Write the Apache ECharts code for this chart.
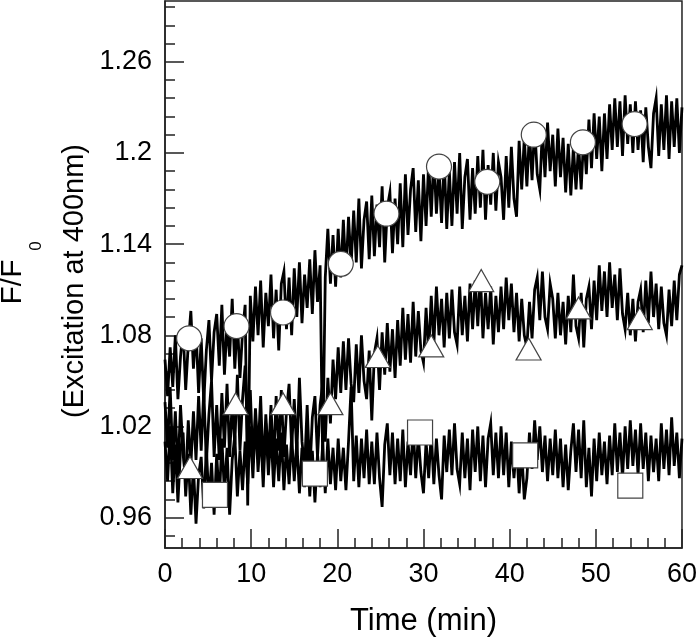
<!DOCTYPE html>
<html>
<head>
<meta charset="utf-8">
<script src="https://cdn.jsdelivr.net/npm/echarts@6/dist/echarts.min.js"></script>
<style>html,body{margin:0;padding:0;background:#fff;}#c{width:700px;height:643px;}</style>
</head>
<body>
<div id="c"></div>
<script>
// sampling step of the traces (minutes)
var timeStep = 0.3;

var circleTrace = [
1.064,1.040,1.072,1.046,1.080,1.038,1.066,1.084,1.044,1.074,
1.096,1.058,1.084,1.042,1.078,1.036,1.070,1.090,1.050,1.082,
1.094,1.060,1.100,1.054,1.088,1.066,1.104,1.058,1.090,1.052,
1.082,1.100,0.968,1.106,1.076,1.112,1.080,1.116,1.072,1.108,
1.086,1.120,1.078,1.110,1.070,1.114,1.122,1.084,1.118,1.080,
1.124,1.092,1.128,1.088,1.120,1.098,1.130,1.094,1.136,1.102,
1.126,0.998,1.118,1.150,1.114,1.146,1.112,1.150,1.118,1.156,
1.120,1.158,1.126,1.162,1.128,1.170,1.124,1.156,1.168,1.130,
1.172,1.132,1.166,1.138,1.178,1.128,1.164,1.174,1.134,1.170,
1.140,1.180,1.138,1.186,1.146,1.176,1.190,1.148,1.182,1.142,
1.186,1.152,1.194,1.158,1.198,1.160,1.190,1.154,1.196,1.150,
1.188,1.152,1.194,1.160,1.200,1.150,1.184,1.196,1.156,1.190,
1.160,1.198,1.164,1.202,1.156,1.192,1.166,1.200,1.162,1.194,
1.184,1.156,1.198,1.164,1.204,1.170,1.158,1.208,1.176,1.210,
1.178,1.214,1.182,1.218,1.186,1.176,1.216,1.184,1.220,1.188,
1.212,1.178,1.216,1.184,1.210,1.174,1.206,1.172,1.204,1.176,
1.206,1.176,1.212,1.186,1.222,1.190,1.226,1.196,1.224,1.188,
1.226,1.196,1.232,1.202,1.236,1.204,1.234,1.198,1.238,1.206,
1.232,1.200,1.234,1.202,1.228,1.194,1.230,1.204,1.190,1.226,
1.236,1.198,1.232,1.202,1.238,1.196,1.234,1.204,1.236,1.200,
1.230];

var triangleTrace = [
1.036,1.006,1.046,0.998,1.030,0.988,1.034,1.002,0.984,1.024,
0.994,1.030,0.998,1.040,1.004,1.044,0.996,1.028,1.050,1.000,
1.034,0.998,1.042,1.006,1.048,1.000,1.036,1.008,1.054,1.004,
1.038,1.060,1.010,1.044,0.996,1.032,1.002,1.040,0.990,1.028,
0.998,1.034,0.994,1.040,1.004,1.044,1.000,1.030,1.048,1.006,
1.038,1.002,1.052,1.010,0.992,1.034,0.988,1.026,1.040,1.000,
1.034,1.048,1.010,1.052,1.022,1.064,1.038,1.072,1.042,1.076,
1.044,1.078,1.048,1.036,1.074,1.042,1.080,1.050,1.038,1.070,
1.024,1.068,1.078,1.044,1.082,1.054,1.088,1.056,1.084,1.052,
1.090,1.060,1.098,1.064,1.094,1.062,1.102,1.066,1.096,1.070,
1.062,1.098,1.068,1.106,1.074,1.112,1.080,1.104,1.072,1.108,
1.078,1.110,1.082,1.074,1.112,1.080,1.106,1.076,1.114,1.084,
1.116,1.086,1.120,1.078,1.108,1.084,1.112,1.074,1.106,1.082,
1.112,1.084,1.118,1.090,1.114,1.082,1.108,1.076,1.104,1.080,
1.072,1.102,1.078,1.110,1.118,1.090,1.122,1.092,1.084,1.114,
1.104,1.078,1.108,1.080,1.102,1.074,1.106,1.082,1.120,1.086,
1.078,1.108,1.072,1.104,1.112,1.084,1.116,1.090,1.126,1.096,
1.122,1.092,1.128,1.098,1.120,1.090,1.124,1.094,1.084,1.108,
1.080,1.104,1.076,1.102,1.110,1.082,1.116,1.088,1.122,1.092,
1.114,1.084,1.112,1.088,1.080,1.110,1.086,1.116,1.090,1.120,
1.126];

var squareTrace = [
1.010,0.984,1.020,0.976,1.008,0.970,1.004,1.016,0.974,1.002,
0.962,0.994,0.956,0.988,1.000,0.966,1.006,0.970,0.996,0.962,
1.002,0.970,1.012,0.976,1.006,0.962,0.998,1.014,0.974,1.004,
0.978,1.010,0.982,1.020,0.986,1.026,0.990,1.018,0.980,1.022,
0.988,1.018,0.980,1.012,0.984,1.016,0.978,1.008,0.982,1.014,
0.984,1.010,0.976,1.006,0.980,1.012,0.974,1.004,0.970,1.002,
0.980,1.008,0.976,1.012,0.982,1.006,0.978,1.012,0.984,1.006,
0.978,1.010,1.046,0.984,1.014,0.980,1.012,0.986,1.018,0.982,
1.010,0.982,1.016,0.986,0.967,1.008,1.022,0.988,1.016,0.982,
1.012,0.984,1.018,0.980,1.010,0.988,1.020,0.986,1.014,0.990,
0.976,1.010,0.986,1.016,0.982,1.012,0.988,0.972,1.014,0.990,
1.018,0.988,1.022,0.992,0.982,1.016,0.986,1.012,0.978,1.018,
0.990,1.020,0.984,1.014,0.980,1.012,1.022,0.988,1.016,0.986,
1.020,0.988,1.016,0.980,1.010,0.986,1.008,0.976,1.004,0.972,
0.986,1.016,0.992,1.024,0.998,1.020,0.990,1.014,0.984,1.012,
0.988,1.018,0.986,1.012,0.980,1.008,0.978,1.004,1.022,0.990,
1.018,0.986,1.024,0.980,1.006,0.974,1.012,0.984,1.016,0.988,
1.010,0.982,1.014,0.988,1.022,0.990,1.016,0.986,1.020,0.992,
1.024,0.994,1.018,0.988,1.022,0.992,1.016,0.984,1.014,0.990,
1.012,0.984,1.022,0.992,1.018,0.988,1.026,0.994,1.016,0.986,
1.012];

// marker points [time, value]
var circleMarks = [[2.8,1.078],[8.3,1.086],[13.7,1.095],[20.4,1.127],[25.7,1.160],[31.8,1.191],[37.4,1.181],[42.8,1.212],[48.5,1.207],[54.5,1.219]];
var triangleMarks = [[2.9,0.993],[8.2,1.035],[13.7,1.035],[19.2,1.035],[24.7,1.066],[30.9,1.073],[36.7,1.116],[42.2,1.071],[48.0,1.098],[55.1,1.091]];
var squareMarks = [[5.8,0.975],[17.4,0.989],[29.6,1.016],[41.8,1.001],[54.0,0.981]];

// axis ticks
var yMajorTicks = [0.96, 1.02, 1.08, 1.14, 1.2, 1.26];
var yMinorTicks = [0.948,0.972,0.984,0.996,1.008,1.032,1.044,1.056,1.068,1.092,1.104,1.116,1.128,1.152,1.164,1.176,1.188,1.212,1.224,1.236,1.248,1.272,1.284,1.296];

function toPairs(arr) {
  return arr.map(function (v, i) { return [Math.round(i * timeStep * 10) / 10, v]; });
}

var font = 'Liberation Sans, Arial, sans-serif';
var chart = echarts.init(document.getElementById('c'), null, {renderer: 'canvas'});

function lineSeries(arr) {
  return {type: 'line', data: toPairs(arr), showSymbol: false, symbol: 'none',
    lineStyle: {color: '#000', width: 2.8, join: 'miter'}, z: 2, silent: true};
}
function markSeries(arr, sym, size) {
  return {type: 'scatter', data: arr, symbol: sym, symbolSize: size,
    itemStyle: {color: '#fff', borderColor: '#444', borderWidth: 1.2, opacity: 1}, z: 5, silent: true};
}

chart.setOption({
  animation: false,
  backgroundColor: '#fff',
  grid: {left: 165, right: 15, top: 1, bottom: 95, show: true, borderColor: '#222', borderWidth: 1.5, backgroundColor: 'transparent'},
  xAxis: [{
    type: 'value', min: 0, max: 60, interval: 10,
    axisLine: {lineStyle: {color: '#222', width: 1.5}},
    axisTick: {inside: true, length: 19, lineStyle: {color: '#222', width: 1.5}},
    minorTick: {show: true, splitNumber: 5, length: 10, lineStyle: {color: '#222', width: 1.5}},
    splitLine: {show: false},
    axisLabel: {fontSize: 27, color: '#000', fontFamily: font, margin: 13},
    name: 'Time (min)', nameLocation: 'middle', nameGap: 58,
    nameTextStyle: {fontSize: 31, color: '#000', fontFamily: font}
  }],
  yAxis: [{
    type: 'value', min: 0.94, max: 1.30,
    axisLine: {lineStyle: {color: '#222', width: 1.5}},
    axisTick: {inside: true, length: 19, customValues: yMajorTicks, lineStyle: {color: '#222', width: 1.5}},
    axisLabel: {fontSize: 27, color: '#000', fontFamily: font, margin: 13, customValues: yMajorTicks,
      formatter: function (v) { return String(v); }},
    splitLine: {show: false}
  }, {
    type: 'value', min: 0.94, max: 1.30, position: 'left',
    axisLine: {show: false},
    axisTick: {inside: true, length: 10, customValues: yMinorTicks, lineStyle: {color: '#222', width: 1.5}},
    axisLabel: {show: false},
    splitLine: {show: false}
  }],
  graphic: [
    {type: 'text', x: 13, y: 282, rotation: Math.PI / 2,
      style: {text: 'F/F', font: '30px ' + font, fill: '#000', textAlign: 'center', textVerticalAlign: 'middle'}},
    {type: 'text', x: 36, y: 246, rotation: Math.PI / 2,
      style: {text: '0', font: '17px ' + font, fill: '#000', textAlign: 'center', textVerticalAlign: 'middle'}},
    {type: 'text', x: 75, y: 281, rotation: Math.PI / 2,
      style: {text: '(Excitation at 400nm)', font: '29px ' + font, fill: '#000', textAlign: 'center', textVerticalAlign: 'middle'}}
  ],
  series: [
    lineSeries(circleTrace),
    lineSeries(triangleTrace),
    lineSeries(squareTrace),
    markSeries(circleMarks, 'circle', 25),
    markSeries(triangleMarks, 'triangle', [25, 22]),
    markSeries(squareMarks, 'rect', 25)
  ]
});
</script>
</body>
</html>
